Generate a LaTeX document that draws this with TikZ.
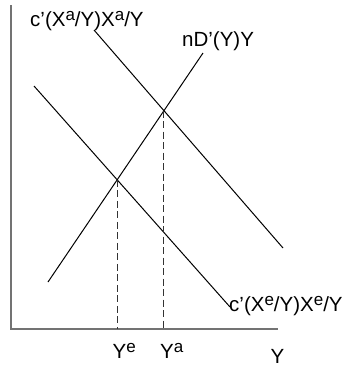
\documentclass[tikz,border=0pt]{standalone}
\usepackage{fontspec}
\setmainfont{Liberation Sans}
\newcommand\upsc[1]{\raisebox{6pt}{\fontsize{17}{18}\selectfont #1}}
\begin{document}
\begin{tikzpicture}[x=1pt,y=-1pt,
  lbl/.style={inner sep=0pt,anchor=base west,font=\fontsize{20.5}{23}\selectfont},
  curve/.style={line width=1pt,black},
  axisline/.style={line width=2pt,gray!90!black},
  guide/.style={line width=1pt,black!80,dash pattern=on 7pt off 3.5pt}]
\useasboundingbox (0,0) rectangle (348,367);
% axes
\coordinate (O) at (11,329);
\coordinate (Ytop) at (11,5);
\coordinate (Xend) at (278,329);
\draw[axisline] (Ytop) -- (O) -- (Xend);
% curves
\coordinate (A1) at (94,30);
\coordinate (A2) at (283,248);
\coordinate (N1) at (48,282);
\coordinate (N2) at (203,53);
\coordinate (E1) at (34,86);
\coordinate (E2) at (230,307);
\draw[curve] (A1) -- (A2);
\draw[curve] (N1) -- (N2);
\draw[curve] (E1) -- (E2);
% intersections
\coordinate (Pe) at (intersection of N1--N2 and E1--E2);
\coordinate (Pa) at (intersection of N1--N2 and A1--A2);
\coordinate (Be) at (Pe |- O);
\coordinate (Ba) at (Pa |- O);
\draw[guide] (Pe) -- (Be);
\draw[guide] (Pa) -- (Ba);
% labels
\node[lbl] (la) at (30,26) {c’(X\upsc{a}/Y)X\upsc{a}/Y};
\node[lbl] (ln) at (182,46) {nD’(Y)Y};
\node[lbl] (le) at (229,311) {c’(X\upsc{e}/Y)X\upsc{e}/Y};
\node[lbl] (lye) at (112.5,358) {Y\upsc{e}};
\node[lbl] (lya) at (160,358) {Y\upsc{a}};
\node[lbl] (ly) at (270.5,363) {Y};
\end{tikzpicture}
\end{document}
